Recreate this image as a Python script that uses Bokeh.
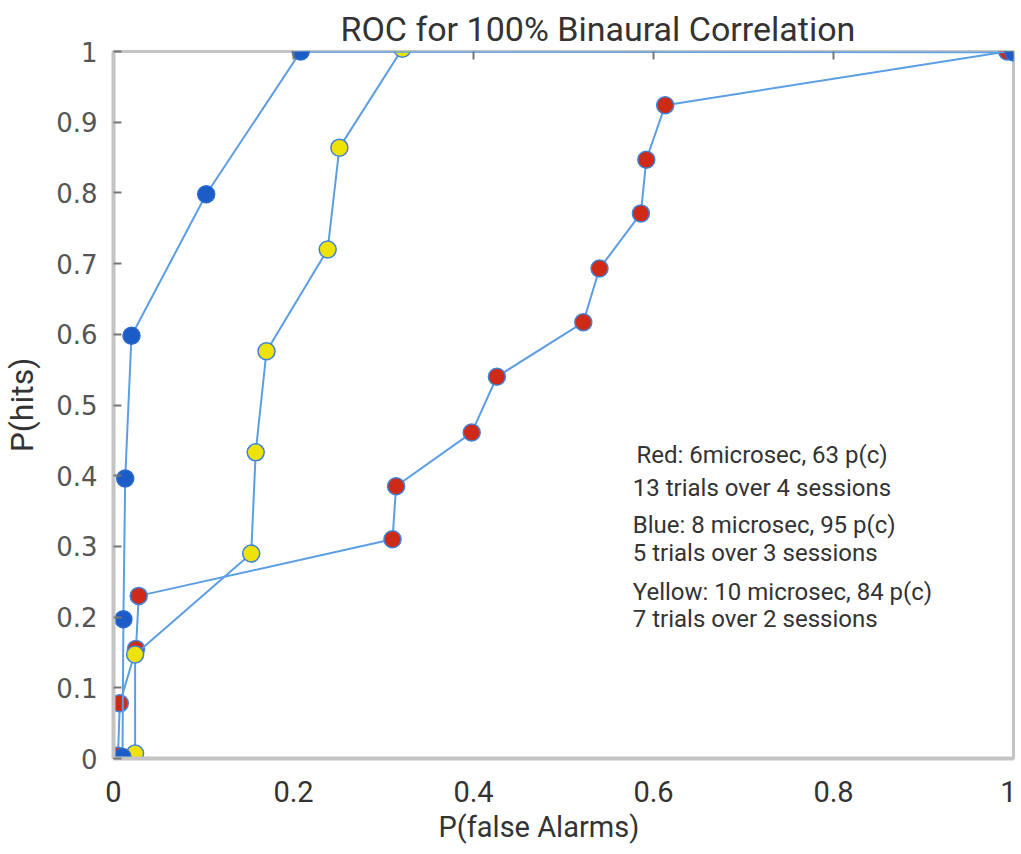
from bokeh.plotting import figure
from bokeh.models import Label, LinearAxis, FixedTicker, Range1d, Title
from bokeh.embed import file_html
from bokeh.resources import INLINE

# ---- data ----
red_x = [0.005, 0.007, 0.025, 0.028, 0.310, 0.314, 0.398, 0.426, 0.522, 0.540, 0.586, 0.592, 0.613, 0.993]
red_y = [0.004, 0.078, 0.155, 0.230, 0.310, 0.385, 0.461, 0.540, 0.617, 0.693, 0.771, 0.847, 0.924, 1.000]

yellow_x = [0.024, 0.024, 0.153, 0.158, 0.170, 0.238, 0.251, 0.321, 1.000]
yellow_y = [0.007, 0.147, 0.290, 0.433, 0.576, 0.720, 0.864, 1.004, 1.004]

blue_x = [0.010, 0.011, 0.013, 0.020, 0.103, 0.208, 1.000]
blue_y = [0.002, 0.197, 0.396, 0.598, 0.798, 1.000, 0.999]

x_ticks = [0, 0.2, 0.4, 0.6, 0.8, 1]
y_ticks = [0, 0.1, 0.2, 0.3, 0.4, 0.5, 0.6, 0.7, 0.8, 0.9, 1]
top_ticks = [0.2, 0.4, 0.6, 0.8]

title_text = "ROC for 100% Binaural Correlation"
x_label = "P(false Alarms)"
y_label = "P(hits)"

note_lines = [
    "Red: 6microsec, 63 p(c)",
    "13 trials over 4 sessions",
    "Blue: 8 microsec, 95 p(c)",
    "5 trials over 3 sessions",
    "Yellow: 10 microsec, 84 p(c)",
    " 7 trials over 2 sessions",
]
note_x = [0.581, 0.577, 0.577, 0.577, 0.577, 0.577]
note_y = [0.4286, 0.383, 0.3296, 0.290, 0.235, 0.197]

LINE = "#5b9ee3"
EDGE = "#3f82d6"
GRAY = "#c4c4c4"
TXT = "#333333"
SANS = "Roboto"

p = figure(width=1016, height=850, output_backend="svg", toolbar_location=None,
           x_range=Range1d(0, 1), y_range=Range1d(0, 1),
           min_border_left=113, min_border_top=51, min_border_right=3, min_border_bottom=92)
p.grid.visible = False
p.outline_line_color = GRAY
p.outline_line_width = 3
p.background_fill_color = "white"

# title above, placed a bit right of the frame centre as in the reference
p.title = Title(text=title_text, align="left", offset=227, text_font=SANS,
                text_font_size="34px", text_font_style="normal", text_color=TXT, standoff=5)

# axes
p.xaxis.ticker = FixedTicker(ticks=x_ticks)
p.yaxis.ticker = FixedTicker(ticks=y_ticks)
p.xaxis.major_label_overrides = {t: ("0" if t == 0 else "1" if t == 1 else str(t)) for t in x_ticks}
p.yaxis.major_label_overrides = {t: ("0" if t == 0 else "1" if t == 1 else str(t)) for t in y_ticks}
for ax in (p.xaxis[0], p.yaxis[0]):
    ax.axis_line_color = GRAY
    ax.axis_line_width = 4
    ax.minor_tick_line_color = None
p.xaxis.major_tick_line_color = None
p.xaxis.major_label_text_font = SANS
p.xaxis.major_label_text_font_size = "29px"
p.xaxis.major_label_text_color = TXT
p.xaxis.major_label_standoff = 16
p.yaxis.major_tick_in = 8
p.yaxis.major_tick_out = 0
p.yaxis.major_tick_line_color = "#777777"
p.yaxis.major_tick_line_width = 2
p.yaxis.major_label_text_font = "DejaVu Sans"
p.yaxis.major_label_text_font_size = "26px"
p.yaxis.major_label_text_color = "#555555"
p.yaxis.major_label_standoff = 16
p.yaxis.axis_label = y_label
p.yaxis.axis_label_text_font = SANS
p.yaxis.axis_label_text_font_size = "32px"
p.yaxis.axis_label_text_font_style = "normal"
p.yaxis.axis_label_text_color = TXT
p.yaxis.axis_label_standoff = 12

top = LinearAxis(ticker=FixedTicker(ticks=top_ticks), axis_line_color=None,
                 major_tick_in=8, major_tick_out=0, minor_tick_line_color=None,
                 major_tick_line_color="#777777", major_tick_line_width=2,
                 major_label_overrides={t: "" for t in top_ticks}, major_label_standoff=0)
p.add_layout(top, "above")

# x axis label as a title below, shifted left like the reference
p.add_layout(Title(text=x_label, align="left", offset=325, text_font=SANS,
                   text_font_size="29px", text_font_style="normal", text_color=TXT,
                   standoff=6), "below")

# series: red, yellow, blue
p.line(red_x, red_y, line_color=LINE, line_width=2)
p.scatter(red_x, red_y, size=17, fill_color="#cf2a16", line_color=EDGE, line_width=1.5)
p.line(yellow_x, yellow_y, line_color=LINE, line_width=2)
p.scatter(yellow_x, yellow_y, size=17, fill_color="#eee207", line_color=EDGE, line_width=1.5)
p.line(blue_x, blue_y, line_color=LINE, line_width=2)
p.scatter(blue_x, blue_y, size=17, fill_color="#1c5cc6", line_color="#2a6bd0", line_width=1.5)

for t, xx, yy in zip(note_lines, note_x, note_y):
    p.add_layout(Label(x=xx, y=yy, text=t, text_align="left", text_baseline="middle",
                       text_font=SANS, text_font_size="24px", text_color=TXT))

open("out.html", "w").write(file_html(p, INLINE))
